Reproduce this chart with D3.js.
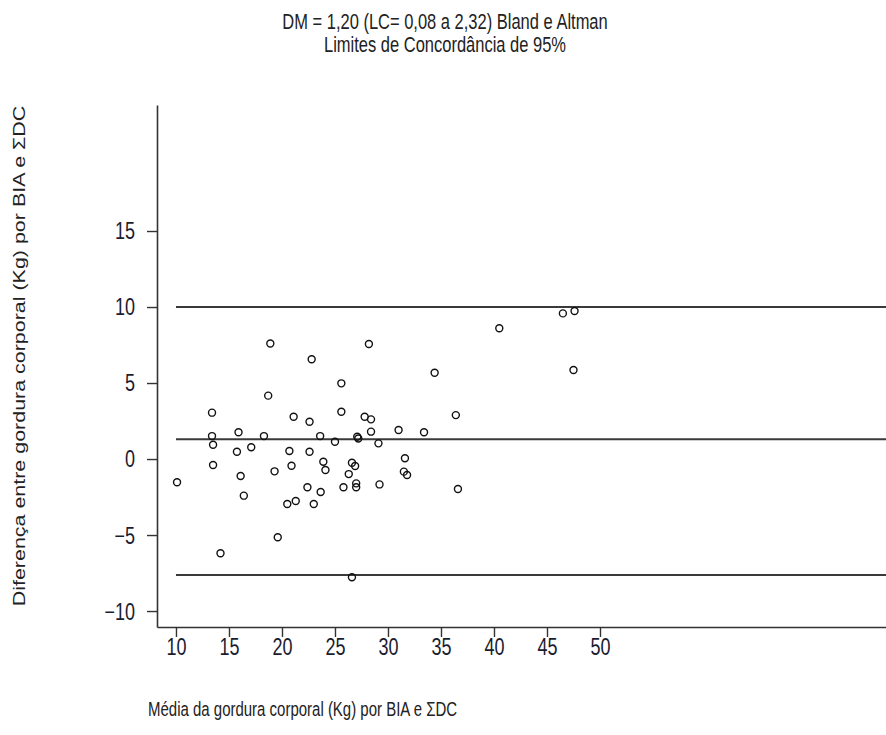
<!DOCTYPE html>
<html>
<head>
<meta charset="utf-8">
<script src="https://cdn.jsdelivr.net/npm/d3@7"></script>
<style>
  html, body { margin: 0; padding: 0; background: #fff; }
  svg { display: block; font-family: "Liberation Sans", Arial, sans-serif; }
</style>
</head>
<body>
<svg id="chart" width="886" height="735"></svg>
<script>
// ---- data ----
const titleLines = ["DM = 1,20 (LC= 0,08 a 2,32) Bland e Altman", "Limites de Concordância de 95%"];
const xLabel = "Média da gordura corporal (Kg) por BIA e ΣDC";
const yLabel = "Diferença entre gordura corporal (Kg) por BIA e ΣDC";
const xTicks = [10, 15, 20, 25, 30, 35, 40, 45, 50];
const yTicks = [-10, -5, 0, 5, 10, 15];
const meanValues = [10.1, 13.4, 13.4, 13.5, 13.5, 14.2, 15.75, 15.9, 16.1, 16.4, 17.1, 18.3, 18.7, 18.9, 19.3, 19.6, 20.5, 20.7, 20.9, 21.1, 21.3, 22.4, 22.6, 22.6, 22.8, 23.0, 23.6, 23.65, 23.9, 24.1, 25.0, 25.6, 25.6, 25.8, 26.3, 26.6, 26.6, 26.9, 27.0, 27.0, 27.1, 27.2, 27.8, 28.2, 28.4, 28.4, 29.1, 29.2, 31.0, 31.5, 31.6, 31.8, 33.4, 34.4, 36.4, 36.6, 40.5, 46.5, 47.6, 47.5];
const diffValues = [-1.53, 3.05, 1.51, 0.94, -0.39, -6.2, 0.48, 1.76, -1.12, -2.41, 0.77, 1.51, 4.17, 7.6, -0.81, -5.15, -2.96, 0.53, -0.44, 2.78, -2.76, -1.86, 2.45, 0.48, 6.56, -2.96, 1.51, -2.17, -0.18, -0.72, 1.14, 4.98, 3.11, -1.86, -0.99, -0.24, -7.78, -0.46, -1.6, -1.86, 1.47, 1.35, 2.78, 7.57, 2.61, 1.8, 1.03, -1.67, 1.91, -0.83, 0.05, -1.05, 1.76, 5.68, 2.89, -1.97, 8.6, 9.58, 9.74, 5.86];
const refLines = [10.0, 1.3, -7.63]; // upper limit, mean difference, lower limit
const refLineStart = 10;

// ---- layout ----
const svg = d3.select("#chart");
const x = d3.scaleLinear().domain([8.21, 76.98]).range([157, 886]);
const y = d3.scaleLinear().domain([-11.05, 23.29]).range([627, 105]);
const ink = "#333";
const textCol = "#1c1c30";
const font = "Liberation Sans, Arial, sans-serif";
const vStretch = 1.3; // reference text is stretched vertically

// title
svg.append("g").selectAll("g").data(titleLines).join("g")
  .attr("transform", (d, i) => `translate(445,${29 + i * 23}) scale(1,${vStretch})`)
  .append("text")
  .attr("text-anchor", "middle").attr("font-size", 16.5).attr("fill", "#222")
  .text(d => d);

// y axis
const yAxis = svg.append("g").attr("transform", "translate(157,0)")
  .call(d3.axisLeft(y).tickValues(yTicks).tickSize(10).tickPadding(12).tickSizeOuter(0));
yAxis.select(".domain").attr("stroke", ink).attr("stroke-width", 1.6);
yAxis.selectAll(".tick line").attr("stroke", ink).attr("stroke-width", 1.4);
yAxis.selectAll(".tick text").attr("font-size", 18).attr("fill", textCol).attr("font-family", font)
  .attr("dy", "0.34em").attr("transform", `scale(1,${vStretch})`);

// x axis
const xAxis = svg.append("g").attr("transform", "translate(0,627)")
  .call(d3.axisBottom(x).tickValues(xTicks).tickSize(10).tickPadding(0).tickSizeOuter(0));
xAxis.select(".domain").attr("stroke", ink).attr("stroke-width", 1.6);
xAxis.selectAll(".tick line").attr("stroke", ink).attr("stroke-width", 1.4);
xAxis.selectAll(".tick text").attr("font-size", 18).attr("fill", textCol).attr("font-family", font)
  .attr("y", 8.5).attr("transform", `scale(1,${vStretch})`);

// reference lines
svg.append("g").selectAll("line").data(refLines).join("line")
  .attr("x1", x(refLineStart)).attr("x2", x.range()[1])
  .attr("y1", d => y(d)).attr("y2", d => y(d))
  .attr("stroke", "#3a3a3a").attr("stroke-width", 2);

// points
svg.append("g").selectAll("circle").data(meanValues).join("circle")
  .attr("cx", d => x(d)).attr("cy", (d, i) => y(diffValues[i]))
  .attr("r", 3.5).attr("fill", "none").attr("stroke", "#111").attr("stroke-width", 1.4);

// axis labels
svg.append("g").attr("transform", `translate(148,716) scale(1,${vStretch})`)
  .append("text").attr("font-size", 15).attr("fill", "#222")
  .text(xLabel);
svg.append("g").attr("transform", `translate(25,356) scale(1,${vStretch}) rotate(-90)`)
  .append("text").attr("text-anchor", "middle").attr("font-size", 16.5).attr("fill", "#222")
  .text(yLabel);
</script>
</body>
</html>
